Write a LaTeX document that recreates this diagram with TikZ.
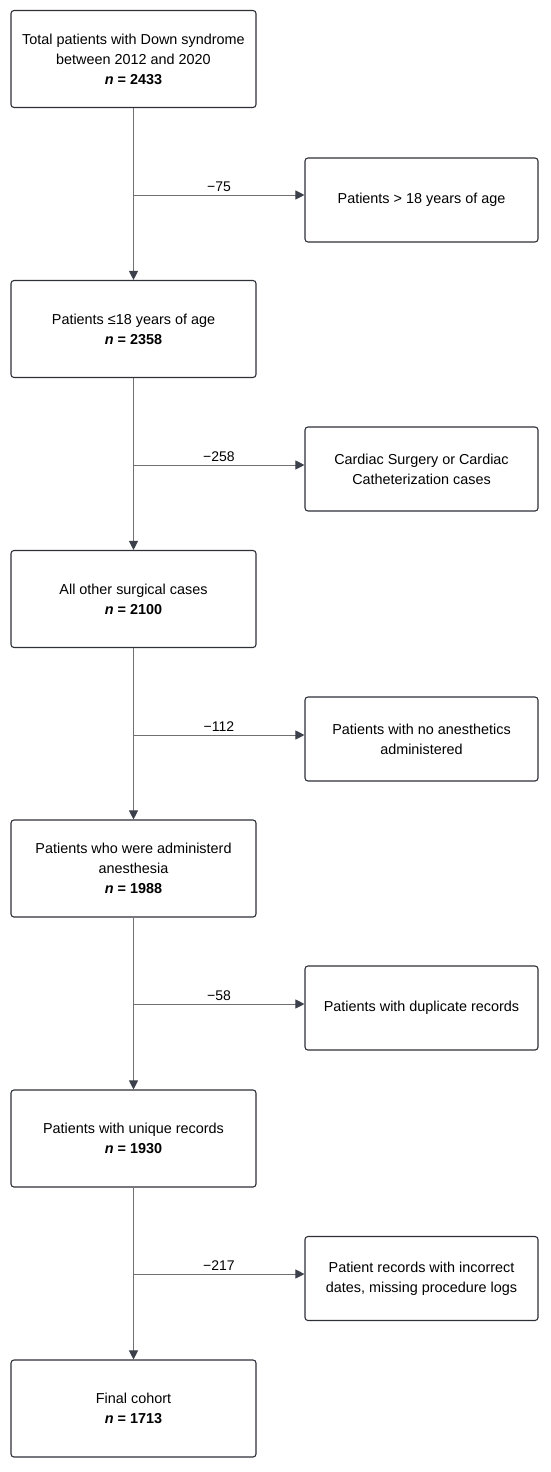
\documentclass[tikz,border=0pt]{standalone}
\usepackage{fontspec}
\setmainfont{Liberation Sans}
\usetikzlibrary{arrows.meta}
\definecolor{boxline}{HTML}{2E3038}
\definecolor{conn}{HTML}{707070}
\definecolor{tipc}{HTML}{3C404A}
\begin{document}
\begin{tikzpicture}[x=1pt,y=-1pt,
  mainbox/.style={draw=boxline,line width=1.1pt,rounded corners=3pt,minimum width=245pt,minimum height=97pt,align=center,font=\fontsize{14.4}{20}\selectfont,inner sep=0pt},
  exclbox/.style={draw=boxline,line width=1.1pt,rounded corners=3pt,minimum width=233pt,minimum height=84pt,align=center,font=\fontsize{14.4}{20}\selectfont,inner sep=0pt},
  flow/.style={draw=conn,line width=0.9pt,-{Triangle[length=9pt,width=9pt,color=tipc]}},
  numlab/.style={font=\fontsize{14}{16}\selectfont,anchor=south,inner sep=3pt}]
\useasboundingbox (0,0) rectangle (550,1472);
\node[mainbox] (b1) at (133.5,59) {Total patients with Down syndrome\\between 2012 and 2020\\\textbf{\textit{n} = 2433}};
\node[mainbox] (b2) at (133.5,329) {Patients ≤18 years of age\\\textbf{\textit{n} = 2358}};
\node[mainbox] (b3) at (133.5,599) {All other surgical cases\\\textbf{\textit{n} = 2100}};
\node[mainbox] (b4) at (133.5,868.5) {Patients who were administerd\\anesthesia\\\textbf{\textit{n} = 1988}};
\node[mainbox] (b5) at (133.5,1138.5) {Patients with unique records\\\textbf{\textit{n} = 1930}};
\node[mainbox] (b6) at (133.5,1408.5) {Final cohort\\\textbf{\textit{n} = 1713}};
\node[exclbox] (e1) at (421.5,200) {Patients > 18 years of age};
\node[exclbox] (e2) at (421.5,469) {Cardiac Surgery or Cardiac\\Catheterization cases};
\node[exclbox] (e3) at (421.5,739) {Patients with no anesthetics\\administered};
\node[exclbox] (e4) at (421.5,1008) {Patients with duplicate records};
\node[exclbox] (e5) at (421.5,1278.5) {Patient records with incorrect\\dates, missing procedure logs};
\foreach \a/\b/\e/\y/\n in {b1/b2/e1/195/−75,b2/b3/e2/465/−258,b3/b4/e3/735/−112,b4/b5/e4/1004/−58,b5/b6/e5/1274/−217}{
  \draw[flow] (\a.south) -- (\b.north);
  \coordinate (j\e) at (133.5,\y);
  \draw[flow] (j\e) -- (\e.west |- j\e) node[numlab,pos=0.5] {\n};
}
\end{tikzpicture}
\end{document}
